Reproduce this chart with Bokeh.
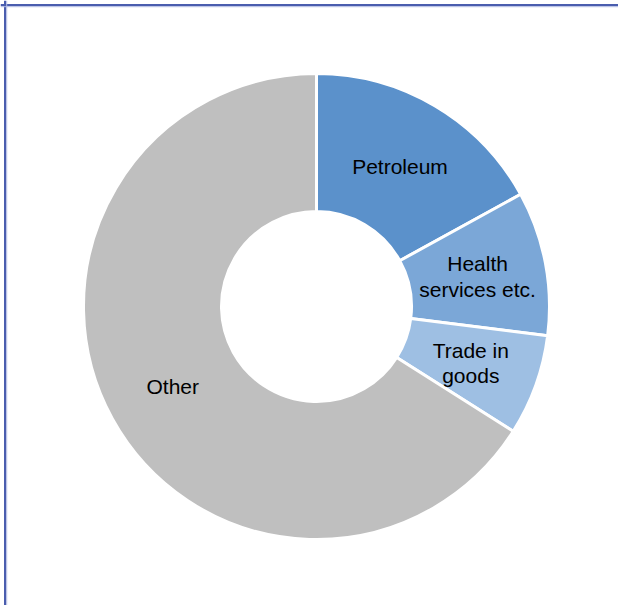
import math
from bokeh.plotting import figure
from bokeh.models import Range1d, Span, ColumnDataSource
from bokeh.core.properties import value
from bokeh.embed import file_html
from bokeh.resources import INLINE

categories = ["Petroleum", "Health\nservices etc.", "Trade in\ngoods", "Other"]
shares = [17, 10, 7, 66]
colors = ["#5B91CB", "#7BA7D7", "#9EBFE3", "#BFBFBF"]

W, H = 618, 605
cx, cy = 316, H - 306
r_out, r_in = 233, 95

total = sum(shares)
starts, ends, lx, ly = [], [], [], []
cum = 0.0
for s in shares:
    a0 = math.pi / 2 - 2 * math.pi * cum / total
    a1 = math.pi / 2 - 2 * math.pi * (cum + s) / total
    starts.append(a0)
    ends.append(a1)
    mid = (a0 + a1) / 2
    rm = (r_in + r_out) / 2
    lx.append(cx + rm * math.cos(mid))
    ly.append(cy + rm * math.sin(mid) - 1)
    cum += s

src = ColumnDataSource(dict(start=starts, end=ends, color=colors, label=categories,
                            lx=lx, ly=ly, x=[cx] * 4, y=[cy] * 4))

p = figure(width=W, height=H, output_backend="svg", toolbar_location=None,
           x_range=Range1d(0, W), y_range=Range1d(0, H), min_border=0)
p.axis.visible = False
p.grid.visible = False
p.outline_line_color = None
p.background_fill_color = "white"
p.border_fill_color = "white"

p.annular_wedge(x="x", y="y", inner_radius=r_in, outer_radius=r_out,
                start_angle="start", end_angle="end", direction="clock",
                fill_color="color", line_color="white", line_width=3, source=src)

p.text(x="lx", y="ly", text="label", source=src, text_align="center",
       text_baseline="middle", text_font=value("Liberation Sans"),
       text_font_size="21px", text_color="black", text_line_height=1.12)

p.add_layout(Span(location=4.5, dimension="height", line_color="#4A5DAE", line_width=2))
p.add_layout(Span(location=H - 4.5, dimension="width", line_color="#4A5DAE", line_width=2))
p.add_layout(Span(location=6.2, dimension="height", line_color="#AEB8E2", line_width=1))
p.add_layout(Span(location=H - 6.2, dimension="width", line_color="#AEB8E2", line_width=1))

open("out.html", "w").write(file_html(p, INLINE))
